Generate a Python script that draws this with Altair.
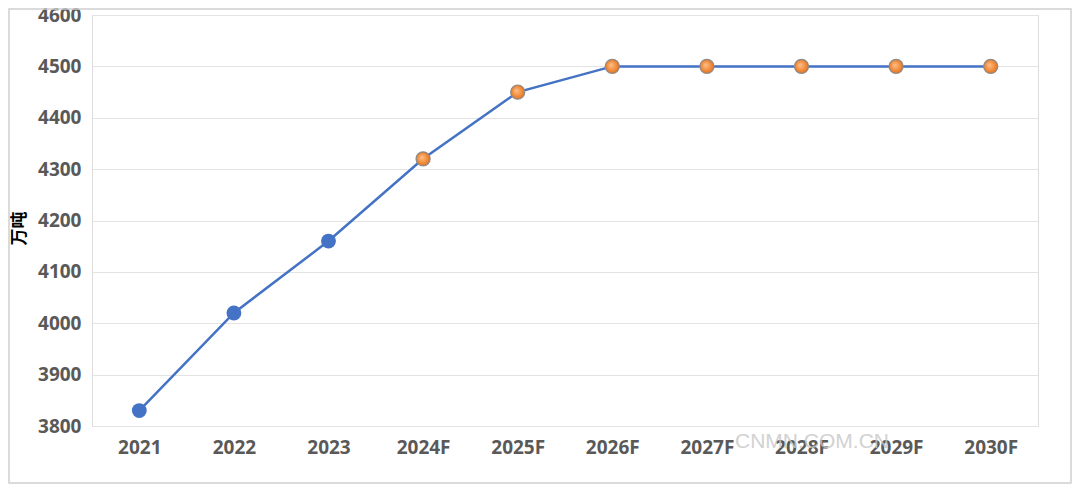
import altair as alt
import pandas as pd

years = ["2021", "2022", "2023", "2024F", "2025F", "2026F", "2027F", "2028F", "2029F", "2030F"]
values = [3830, 4020, 4160, 4320, 4450, 4500, 4500, 4500, 4500, 4500]
kinds = ["actual", "actual", "actual", "forecast", "forecast", "forecast", "forecast", "forecast", "forecast", "forecast"]
y_ticks = [3800, 3900, 4000, 4100, 4200, 4300, 4400, 4500, 4600]

df = pd.DataFrame({"year": years, "value": values, "kind": kinds})

W, H = 946, 411
FONT = "Open Sans"
LABEL_COLOR = "#595959"

x_enc = alt.X("year:N", sort=years,
              scale=alt.Scale(paddingInner=0, paddingOuter=0.5),
              axis=alt.Axis(title=None, labelFont=FONT, labelFontSize=19, labelFontWeight="bold",
                            labelColor=LABEL_COLOR, labelPadding=12, domain=False, ticks=False,
                            labelAngle=0, grid=False))
y_enc = alt.Y("value:Q", scale=alt.Scale(domain=[3800, 4600], nice=False, zero=False),
              axis=alt.Axis(title="万吨", values=y_ticks, format="d", labelFont=FONT, labelFontSize=19,
                            labelFontWeight="bold", labelColor=LABEL_COLOR, labelPadding=11,
                            domain=False, ticks=False, gridColor="#E3E3E3", gridWidth=1,
                            titleFont="Noto Sans CJK SC", titleFontSize=17, titleFontWeight="bold",
                            titleColor="#000000", titleX=-73, titleY=213, titleAngle=-90,
                            titleAlign="center", titleBaseline="middle"))

base = alt.Chart(df)

line = base.mark_line(color="#4472C4", strokeWidth=2.5).encode(x=x_enc, y=y_enc)

actual = base.transform_filter(alt.datum.kind == "actual").mark_circle(
    size=220, color="#4472C4", opacity=1).encode(x=x_enc, y=y_enc)

grad = alt.RadialGradient(gradient="radial", x1=0.4, y1=0.4, r1=0, x2=0.5, y2=0.5, r2=0.6,
                          stops=[alt.GradientStop(offset=0, color="#FFC08A"),
                                 alt.GradientStop(offset=0.6, color="#F08A3A"),
                                 alt.GradientStop(offset=1, color="#D9650F")])
forecast = base.transform_filter(alt.datum.kind == "forecast").mark_point(
    shape="circle", size=200, filled=True, fill=grad, stroke="#8C8C8C", strokeWidth=1.2,
    opacity=1).encode(x=x_enc, y=y_enc)

border = alt.Chart(pd.DataFrame({"a": [0]})).mark_rect(
    fill=None, stroke="#D0D0D0", strokeWidth=1.5).encode(
    x=alt.value(-83), x2=alt.value(W + 33), y=alt.value(-6), y2=alt.value(H + 57))

watermark = alt.Chart(pd.DataFrame({"t": ["CNMN.COM.CN"]})).mark_text(
    font="Liberation Sans", fontSize=21, color="#C8C8C8", opacity=0.8, align="left",
    baseline="middle").encode(text="t:N", x=alt.value(643), y=alt.value(427))

chart = alt.layer(border, line, actual, forecast, watermark).properties(
    width=W, height=H,
    autosize=alt.AutoSizeParams(type="none"),
    padding={"left": 84, "top": 7, "right": 34, "bottom": 58},
).configure_view(stroke=None).configure(background="white")

chart.save("out.html", embed_options={"renderer": "svg", "actions": False})
